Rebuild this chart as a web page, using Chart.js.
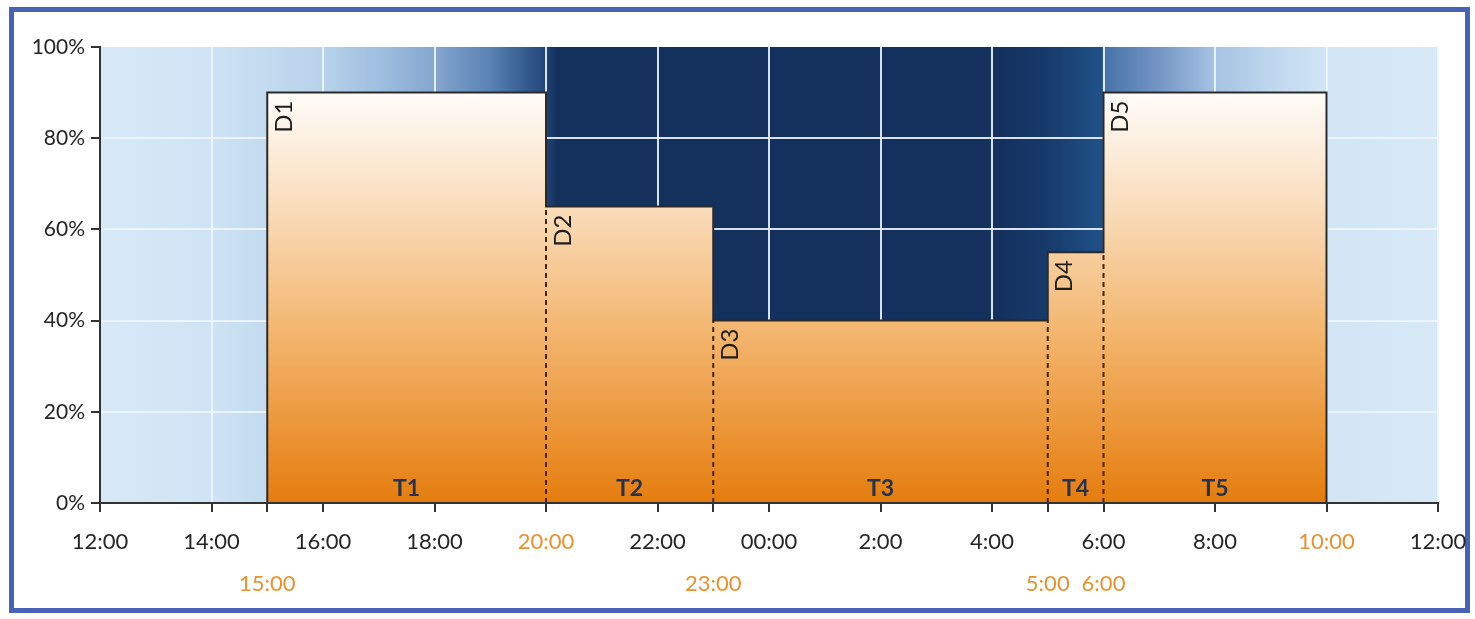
<!DOCTYPE html>
<html>
<head>
<meta charset="utf-8">
<script src="https://cdn.jsdelivr.net/npm/chart.js@4.4.0/dist/chart.umd.min.js"></script>
<style>
  html, body { margin: 0; padding: 0; background: #fff; }
  #wrap { position: relative; width: 1475px; height: 619px; overflow: hidden; }
  #frame { position: absolute; left: 9px; top: 7px; width: 1451px; height: 596px; border: 5px solid #4a62b4; }
  #c { position: absolute; left: 0; top: 0; }
</style>
</head>
<body>
<div id="wrap">
  <div id="frame"></div>
  <canvas id="c" width="1475" height="619"></canvas>
</div>
<script>
(function () {
  "use strict";

  // tick labels along the day, every 2 hours starting at 12:00
  var hourTicks = ["12:00", "14:00", "16:00", "18:00", "20:00", "22:00", "00:00", "2:00", "4:00", "6:00", "8:00", "10:00", "12:00"];
  var orangeTicks = ["20:00", "10:00"];
  var secondRowTicks = ["15:00", "23:00", "5:00", "6:00"];

  // tariff periods
  var periodNames = ["T1", "T2", "T3", "T4", "T5"];
  var levelNames = ["D1", "D2", "D3", "D4", "D5"];
  var periodStart = ["15:00", "20:00", "23:00", "5:00", "6:00"];
  var periodEnd = ["20:00", "23:00", "5:00", "6:00", "10:00"];
  var demandLevel = [90, 65, 40, 55, 90];

  var yTicks = [0, 20, 40, 60, 80, 100];

  var FONT = "Lato, 'Open Sans', sans-serif";
  var ORANGE = "#e8922e";
  var TEXT = "#262626";

  // hours elapsed since 12:00 (start of the axis)
  function toHours(label) {
    var h = parseInt(label.split(":")[0], 10);
    return (h - 12 + 24) % 24;
  }
  function hourLabel(v) {
    return hourTicks[Math.round(v / 2)];
  }

  var starts = periodStart.map(toHours);
  var ends = periodEnd.map(function (l, i) {
    var e = toHours(l);
    return e < starts[i] ? e + 24 : e;
  });

  // outline of the stepped profile
  var profile = [{ x: starts[0], y: 0 }];
  demandLevel.forEach(function (lvl, i) {
    profile.push({ x: starts[i], y: lvl });
    profile.push({ x: ends[i], y: lvl });
  });
  profile.push({ x: ends[ends.length - 1], y: 0 });

  // dashed separators between neighbouring periods
  var dashed = [];
  for (var i = 0; i < demandLevel.length - 1; i++) {
    var top = Math.min(demandLevel[i], demandLevel[i + 1]);
    dashed.push({
      type: "line",
      data: [{ x: ends[i], y: 0 }, { x: ends[i], y: top }],
      borderColor: "#4a2400",
      borderWidth: 2,
      borderDash: [5, 4],
      pointRadius: 0,
      fill: false
    });
  }

  var mainTickValues = hourTicks.map(function (t, i) { return i * 2; });
  starts.concat(ends).forEach(function (v) {
    if (mainTickValues.indexOf(v) < 0) mainTickValues.push(v);
  });
  mainTickValues.sort(function (a, b) { return a - b; });

  var secondRowValues = secondRowTicks.map(toHours);

  function bgGradient(chart) {
    var ca = chart.chartArea;
    var xs = chart.scales.x;
    var g = chart.ctx.createLinearGradient(ca.left, 0, ca.right, 0);
    function stop(h, c) {
      var p = (xs.getPixelForValue(h) - ca.left) / (ca.right - ca.left);
      g.addColorStop(Math.max(0, Math.min(1, p)), c);
    }
    stop(0, "#d7e9f7");
    stop(2, "#cee3f4");
    stop(4, "#b8d2ea");
    stop(5, "#9fbfe0");
    stop(6, "#85a6cf");
    stop(7, "#5a82b4");
    stop(7.9, "#264b80");
    stop(8.2, "#14315e");
    stop(16.2, "#14315e");
    stop(17, "#173a6b");
    stop(17.97, "#1f5188");
    stop(18, "#4672a8");
    stop(19, "#7596c5");
    stop(20, "#a6c3e3");
    stop(21, "#bfd7ee");
    stop(22, "#d1e5f5");
    stop(24, "#d7e9f7");
    return g;
  }

  var backgroundPlugin = {
    id: "nightBackground",
    beforeDraw: function (chart) {
      var ca = chart.chartArea;
      if (!ca) return;
      var ctx = chart.ctx;
      ctx.save();
      ctx.fillStyle = bgGradient(chart);
      ctx.fillRect(ca.left, ca.top, ca.right - ca.left, ca.bottom - ca.top);
      ctx.restore();
    }
  };

  var labelPlugin = {
    id: "periodLabels",
    afterDatasetsDraw: function (chart) {
      var ctx = chart.ctx;
      var xs = chart.scales.x;
      var ys = chart.scales.y;
      ctx.save();
      demandLevel.forEach(function (lvl, i) {
        var x0 = xs.getPixelForValue(starts[i]);
        var x1 = xs.getPixelForValue(ends[i]);
        var yTop = ys.getPixelForValue(lvl);
        var yBot = ys.getPixelForValue(0);

        ctx.save();
        ctx.translate(x0 + 5, yTop + 8);
        ctx.rotate(-Math.PI / 2);
        ctx.font = "24px " + FONT;
        ctx.fillStyle = "#1c1c1c";
        ctx.textAlign = "right";
        ctx.textBaseline = "top";
        ctx.fillText(levelNames[i], 0, 0);
        ctx.restore();

        ctx.font = "bold 23px " + FONT;
        ctx.fillStyle = "#26324e";
        ctx.textAlign = "center";
        ctx.textBaseline = "bottom";
        ctx.fillText(periodNames[i], (x0 + x1) / 2, yBot - 3);
      });
      ctx.restore();
    }
  };

  function noSidePadding(scale) {
    scale.paddingLeft = 0;
    scale.paddingRight = 0;
  }

  new Chart(document.getElementById("c"), {
    type: "line",
    data: {
      datasets: dashed.concat([{
        type: "line",
        data: profile,
        borderColor: "#2a2a2a",
        borderWidth: 2,
        pointRadius: 0,
        tension: 0,
        fill: "origin",
        backgroundColor: function (context) {
          var chart = context.chart;
          var ca = chart.chartArea;
          if (!ca) return "#f0a050";
          var ys = chart.scales.y;
          var g = chart.ctx.createLinearGradient(0, ys.getPixelForValue(92), 0, ys.getPixelForValue(0));
          g.addColorStop(0, "#ffffff");
          g.addColorStop(0.3, "#f9dcb9");
          g.addColorStop(0.6, "#f3b56d");
          g.addColorStop(1, "#e57d0e");
          return g;
        }
      }])
    },
    options: {
      responsive: false,
      animation: false,
      events: [],
      parsing: false,
      layout: { padding: { left: 0, top: 47, right: 37, bottom: 28 } },
      plugins: {
        legend: { display: false },
        tooltip: { enabled: false }
      },
      scales: {
        x: {
          type: "linear",
          position: "bottom",
          weight: 0,
          min: 0,
          max: 24,
          afterBuildTicks: function (scale) {
            scale.ticks = mainTickValues.map(function (v) { return { value: v }; });
          },
          afterFit: function (scale) { scale.height = 48; noSidePadding(scale); },
          ticks: {
            autoSkip: false,
            maxRotation: 0,
            padding: 17,
            font: { family: FONT, size: 22 },
            color: function (c) {
              var v = c.tick.value;
              return (v % 2 === 0 && orangeTicks.indexOf(hourLabel(v)) >= 0) ? ORANGE : TEXT;
            },
            callback: function (v) { return v % 2 === 0 ? hourLabel(v) : ""; }
          },
          grid: {
            color: function (c) {
              return c.tick && c.tick.value % 2 === 0 ? "rgba(238,245,255,0.9)" : "rgba(0,0,0,0)";
            },
            lineWidth: 2,
            tickColor: "#333",
            tickLength: 9
          },
          border: { display: true, color: "#333", width: 2, z: 1 }
        },
        x2: {
          type: "linear",
          position: "bottom",
          weight: 1,
          min: 0,
          max: 24,
          afterBuildTicks: function (scale) {
            scale.ticks = secondRowValues.map(function (v) { return { value: v }; });
          },
          afterFit: function (scale) { scale.height = 40; noSidePadding(scale); },
          ticks: {
            autoSkip: false,
            maxRotation: 0,
            padding: 20,
            font: { family: FONT, size: 22 },
            color: ORANGE,
            callback: function (v) {
              return secondRowTicks[secondRowValues.indexOf(v)];
            }
          },
          grid: { display: false, drawTicks: false },
          border: { display: false }
        },
        y: {
          type: "linear",
          min: 0,
          max: 100,
          afterBuildTicks: function (scale) {
            scale.ticks = yTicks.map(function (v) { return { value: v }; });
          },
          afterFit: function (scale) { scale.width = 100; },
          ticks: {
            padding: 6,
            font: { family: FONT, size: 21 },
            color: TEXT,
            callback: function (v) { return v + "%"; }
          },
          grid: {
            color: function (c) {
              return c.tick && c.tick.value > 0 && c.tick.value < 100 ? "rgba(238,245,255,0.9)" : "rgba(0,0,0,0)";
            },
            lineWidth: 2,
            tickColor: "#333",
            tickLength: 9
          },
          border: { display: true, color: "#333", width: 2, z: 1 }
        }
      }
    },
    plugins: [backgroundPlugin, labelPlugin]
  });
})();
</script>
</body>
</html>
